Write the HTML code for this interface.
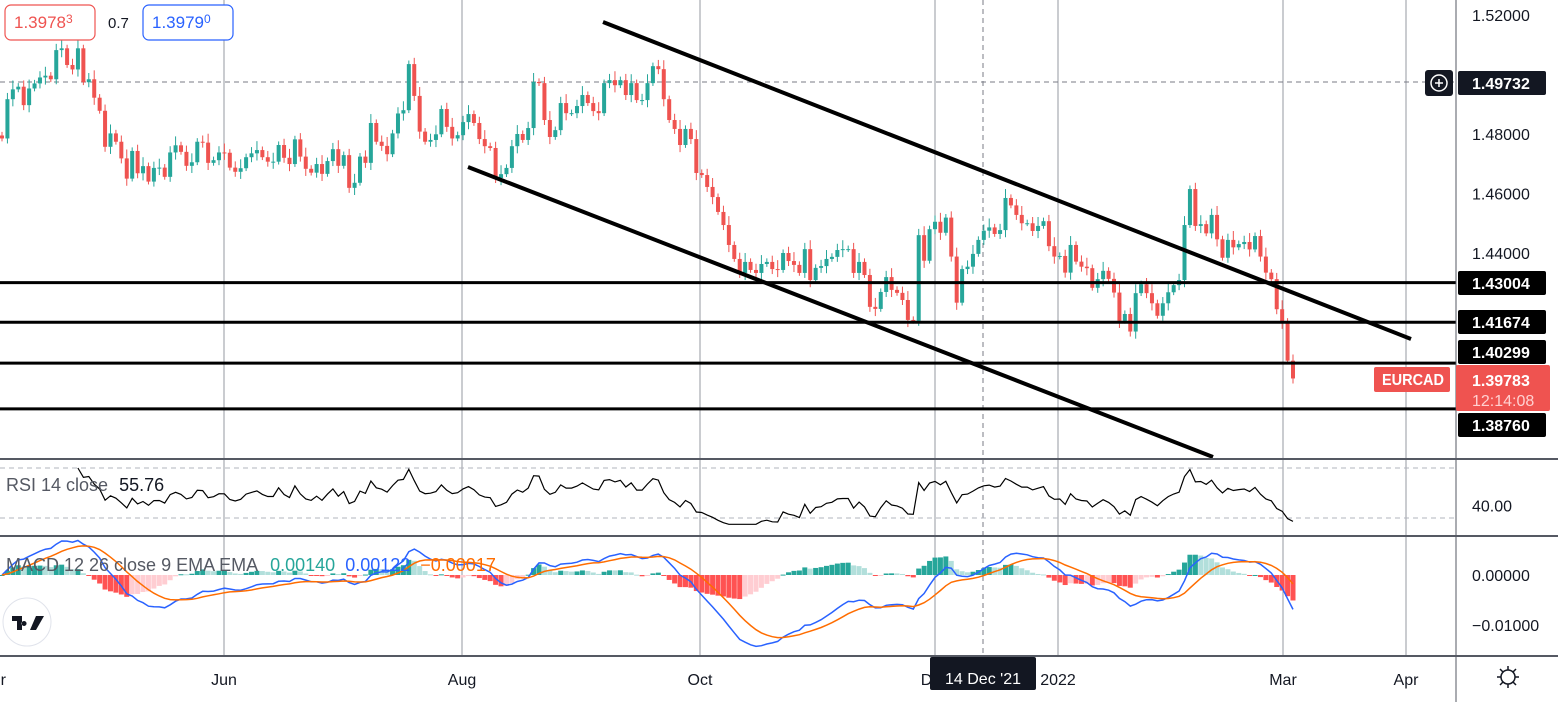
<!DOCTYPE html>
<html><head><meta charset="utf-8">
<style>
html,body{margin:0;padding:0;background:#fff;width:1558px;height:702px;overflow:hidden;font-family:"Liberation Sans",sans-serif}
svg text{font-family:"Liberation Sans",sans-serif}
</style></head>
<body>
<svg id="c" width="1558" height="702" xmlns="http://www.w3.org/2000/svg"></svg>
<script>
const closes=[1.4785,1.4917,1.4950,1.4959,1.4897,1.4953,1.4970,1.4990,1.4996,1.4984,1.5082,1.5088,1.5032,1.5017,1.5088,1.4974,1.4984,1.4922,1.4878,1.4757,1.4802,1.4774,1.4718,1.4650,1.4743,1.4668,1.4692,1.4640,1.4686,1.4687,1.4656,1.4738,1.4762,1.4740,1.4693,1.4705,1.4774,1.4771,1.4703,1.4712,1.4738,1.4737,1.4687,1.4673,1.4685,1.4722,1.4735,1.4746,1.4722,1.4707,1.4707,1.4763,1.4720,1.4699,1.4782,1.4724,1.4683,1.4670,1.4699,1.4666,1.4709,1.4749,1.4693,1.4729,1.4619,1.4636,1.4724,1.4703,1.4837,1.4774,1.4760,1.4732,1.4802,1.4869,1.4880,1.5035,1.4928,1.4808,1.4774,1.4780,1.4799,1.4884,1.4824,1.4785,1.4796,
1.4840,1.4867,1.4837,1.4783,1.4759,1.4753,1.4652,1.4665,1.4686,1.4759,1.4800,1.4780,1.4820,1.4975,1.4971,1.4847,1.4790,1.4813,1.4904,1.4870,1.4870,1.4894,1.4931,1.4904,1.4877,1.4870,1.4971,1.4981,1.4964,1.4981,1.4931,1.4971,1.4914,1.4914,1.4971,1.5028,1.5018,1.4917,1.4847,1.4817,1.4763,1.4817,1.4783,1.4669,1.4662,1.4622,1.4588,1.4538,1.4494,1.4427,1.4380,1.4333,1.4370,1.4343,1.4333,1.4363,1.4370,1.4346,1.4343,1.4400,1.4373,1.4360,1.4333,1.4413,1.4309,1.4350,1.4356,1.4380,1.4387,1.4410,1.4413,1.4413,1.4333,1.4370,1.4326,1.4219,1.4212,1.4269,1.4319,1.4276,1.4266,
1.4242,1.4175,1.4172,1.4460,1.4374,1.4480,1.4505,1.4468,1.4519,1.4388,1.4233,1.4346,1.4354,1.4397,1.4444,1.4475,1.4486,1.4464,1.4477,1.4585,1.4560,1.4528,1.4500,1.4500,1.4474,1.4491,1.4507,1.4423,1.4388,1.4390,1.4334,1.4427,1.4371,1.4354,1.4349,1.4283,1.4312,1.4340,1.4313,1.4267,1.4172,1.4195,1.4136,1.4265,1.4295,1.4265,1.4231,1.4189,1.4231,1.4268,1.4292,1.4309,1.4494,1.4615,1.4491,1.4497,1.4466,1.4528,1.4446,1.4384,1.4444,1.4419,1.4430,1.4437,1.4412,1.4457,1.4388,1.4334,1.4312,1.4211,1.4169,1.4038,1.39783];
const levels=[1.43004,1.41674,1.40299,1.38760];
const levelLabelY=[283,322,352,425];
const priceTicks=[1.52,1.48,1.46,1.44];
const timeLabels=["r","Jun","Aug","Oct","Dec","2022","Mar","Apr"];
const timeX=[0,224,462,700,935,1058,1283,1406];
const rsiTicks=[40];
const macdTicks=[0,-0.01];

const NS="http://www.w3.org/2000/svg";
const svg=document.getElementById('c');
function el(t,a,p){const e=document.createElementNS(NS,t);for(const k in a)e.setAttribute(k,a[k]);(p||svg).appendChild(e);return e;}
const W=1456;
const py=p=>15+(1.52-p)*2975;
const N=closes.length;
const cx=i=>2+i*(1293-2)/(N-1);
const ry=v=>468+(70-v)*(50/40);
const my=v=>575-v*5000;

timeX.forEach((x,i)=>{if(i==0)return;const g=el('line',{x1:x,y1:0,x2:x,y2:656,stroke:'#9598a1','stroke-width':1});
});
let ch=el('line',{x1:983,y1:0,x2:983,y2:656,stroke:'#787b86','stroke-dasharray':'5,4'});
ch=el('line',{x1:0,y1:82,x2:W,y2:82,stroke:'#787b86','stroke-dasharray':'5,4'});

const gC=el('g',{});
for(let i=0;i<N;i++){
 const o=i?closes[i-1]:closes[0]+0.001,c=closes[i];
 const up=c>=o,col=up?'#26a69a':'#ef5350';
 const wk=0.0012+0.0009*((i*7)%3);
 const hi=Math.max(o,c)+wk,lo=Math.min(o,c)-wk*0.8;
 const x=cx(i);
 const w=el('line',{x1:x,y1:py(hi),x2:x,y2:py(lo),stroke:col,'stroke-width':1},gC);
 
 const t=Math.min(py(o),py(c)),h=Math.max(1,Math.abs(py(o)-py(c)));
 const b=el('rect',{x:x-2,y:t,width:4,height:h,fill:col},gC);
 
}
let tl=el('line',{x1:603,y1:22,x2:1411,y2:339,stroke:'#000','stroke-width':4});
tl=el('line',{x1:468,y1:167,x2:1213,y2:457,stroke:'#000','stroke-width':4});
levels.forEach((lv,i)=>{const l=el('line',{x1:0,y1:py(lv),x2:W,y2:py(lv),stroke:'#000','stroke-width':3});

const r=el('rect',{x:1458,y:levelLabelY[i]-12,width:88,height:24,rx:2,fill:'#000'});
const t=el('text',{x:1472,y:levelLabelY[i]+6,fill:'#fff','font-size':16,'font-weight':'bold'});t.textContent=lv.toFixed(5);});

[[0,459,1558,459],[0,536,1558,536],[0,656,1558,656]].forEach(a=>{const l=el('line',{x1:a[0],y1:a[1],x2:a[2],y2:a[3],stroke:'#555963','stroke-width':2});});
let ax=el('line',{x1:W,y1:0,x2:W,y2:702,stroke:'#555963','stroke-width':1});

priceTicks.forEach(p=>{const t=el('text',{x:1472,y:py(p)+6,fill:'#131722','font-size':16});t.textContent=p.toFixed(5);});
let r=el('rect',{x:1458,y:71,width:88,height:24,rx:2,fill:'#131722'});
let t=el('text',{x:1472,y:89,fill:'#fff','font-size':16,'font-weight':'bold'});t.textContent='1.49732';
let pb=el('rect',{x:1425,y:70,width:28,height:26,rx:3,fill:'#131722'});
el('circle',{cx:1439,cy:83,r:8,fill:'none',stroke:'#fff','stroke-width':1.5});
el('path',{d:'M1435 83h8M1439 79v8',stroke:'#fff','stroke-width':1.5});
r=el('rect',{x:1374,y:367,width:76,height:25,rx:2,fill:'#ef5350'});
t=el('text',{x:1382,y:385,fill:'#fff','font-size':16,'font-weight':'bold',textLength:62,lengthAdjust:'spacingAndGlyphs'});t.textContent='EURCAD';
r=el('rect',{x:1456,y:365,width:94,height:46,rx:2,fill:'#ef5350'});
t=el('text',{x:1472,y:386,fill:'#fff','font-size':16,'font-weight':'bold'});t.textContent='1.39783';
t=el('text',{x:1472,y:406,fill:'#ffd0d0','font-size':16});t.textContent='12:14:08';

r=el('rect',{x:5,y:5,width:90,height:35,rx:6,fill:'#fff',stroke:'#ef5350','stroke-width':1.2});
t=el('text',{x:14,y:28,fill:'#ef5350','font-size':17});t.textContent='1.3978';
el('tspan',{'font-size':12,dy:-5},t).textContent='3';
t=el('text',{x:108,y:28,fill:'#131722','font-size':15});t.textContent='0.7';
r=el('rect',{x:143,y:5,width:90,height:35,rx:6,fill:'#fff',stroke:'#2962ff','stroke-width':1.2});
t=el('text',{x:152,y:28,fill:'#2962ff','font-size':17});t.textContent='1.3979';
el('tspan',{'font-size':12,dy:-5},t).textContent='0';

// RSI
[468,518].forEach(y=>{const l=el('line',{x1:0,y1:y,x2:W,y2:y,stroke:'#b2b5be','stroke-dasharray':'5,4'});});
const rsi=[];{let ag=0,al=0;for(let i=1;i<N;i++){const d=closes[i]-closes[i-1];const g=Math.max(d,0),l=Math.max(-d,0);
 if(i<=14){ag+=g/14;al+=l/14;}else{ag=(ag*13+g)/14;al=(al*13+l)/14;}
 rsi[i]=100-100/(1+ag/(al||1e-9));}}
let d='';for(let i=14;i<N;i++)d+=(d?'L':'M')+cx(i).toFixed(1)+' '+ry(Math.max(25,Math.min(70,rsi[i]))).toFixed(1);
let rl=el('path',{d:d,fill:'none',stroke:'#000','stroke-width':1.2});
rsiTicks.forEach(v=>{const tt=el('text',{x:1472,y:ry(v)+6,fill:'#131722','font-size':16});tt.textContent=v.toFixed(2);});
t=el('text',{x:6,y:491,fill:'#131722','font-size':18});
el('tspan',{fill:'#555963'},t).textContent='RSI 14 close ';
el('tspan',{dx:6},t).textContent='55.76';

// MACD
function ema(a,n){const k=2/(n+1);const o=[a[0]];for(let i=1;i<a.length;i++)o[i]=a[i]*k+o[i-1]*(1-k);return o;}
const e12=ema(closes,12),e26=ema(closes,26);
const macd=closes.map((_,i)=>e12[i]-e26[i]);const sig=ema(macd,9);
const hist=macd.map((m,i)=>m-sig[i]);
const gH=el('g',{});
for(let i=0;i<N;i++){const h=hist[i],prev=i?hist[i-1]:0;
 const col=h>=0?(h>=prev?'#26a69a':'#b2dfdb'):(h<prev?'#ff5252':'#ffcdd2');
 const y0=my(0),y1=my(h);const b=el('rect',{x:cx(i)-2.5,y:Math.min(y0,y1),width:5,height:Math.max(1,Math.abs(y1-y0)),fill:col},gH);
 }
function line(arr,col,name){let dd='';arr.forEach((v,i)=>{dd+=(i?'L':'M')+cx(i).toFixed(1)+' '+my(v).toFixed(1);});
 const p=el('path',{d:dd,fill:'none',stroke:col,'stroke-width':1.5});}
line(macd,'#2962ff','macd-line');line(sig,'#ff6d00','signal-line');
macdTicks.forEach(v=>{const tt=el('text',{x:1472,y:my(v)+6,fill:'#131722','font-size':16});tt.textContent=(v<0?'\u2212':'')+Math.abs(v).toFixed(5);});
t=el('text',{x:6,y:571,'font-size':18});
el('tspan',{fill:'#555963'},t).textContent='MACD 12 26 close 9 EMA EMA ';
el('tspan',{fill:'#26a69a',dx:8},t).textContent='0.00140';
el('tspan',{fill:'#2962ff',dx:10},t).textContent='0.00122';
el('tspan',{fill:'#ff6d00',dx:10},t).textContent='\u22120.00017';
let lg=el('circle',{cx:27,cy:622,r:24,fill:'#fff',stroke:'#e0e3eb','stroke-width':1});
el('path',{d:'M12 616h10v14h-5v-9h-5zM24 621a2.5 2.5 0 1 0 0.1 0M30 616h14l-8 14h-6l6-14z',fill:'#131722'});

timeLabels.forEach((s,i)=>{const tt=el('text',{x:timeX[i],y:685,fill:'#131722','font-size':16,'text-anchor':i==0?'end':'middle'});tt.textContent=s;if(i==0)tt.setAttribute('x',6);});
r=el('rect',{x:930,y:657,width:106,height:33,rx:2,fill:'#131722'});
t=el('text',{x:983,y:684,fill:'#fff','font-size':16,'text-anchor':'middle'});t.textContent="14 Dec '21";
let gs=el('g',{});
el('circle',{cx:1508,cy:677,r:7,fill:'none',stroke:'#131722','stroke-width':1.5},gs);
el('path',{d:'M1508 666v4M1508 684v4M1497 677h4M1515 677h4M1500 669l3 3M1513 682l3 3M1500 685l3-3M1513 672l3-3',stroke:'#131722','stroke-width':1.5},gs);
</script>
</body></html>
